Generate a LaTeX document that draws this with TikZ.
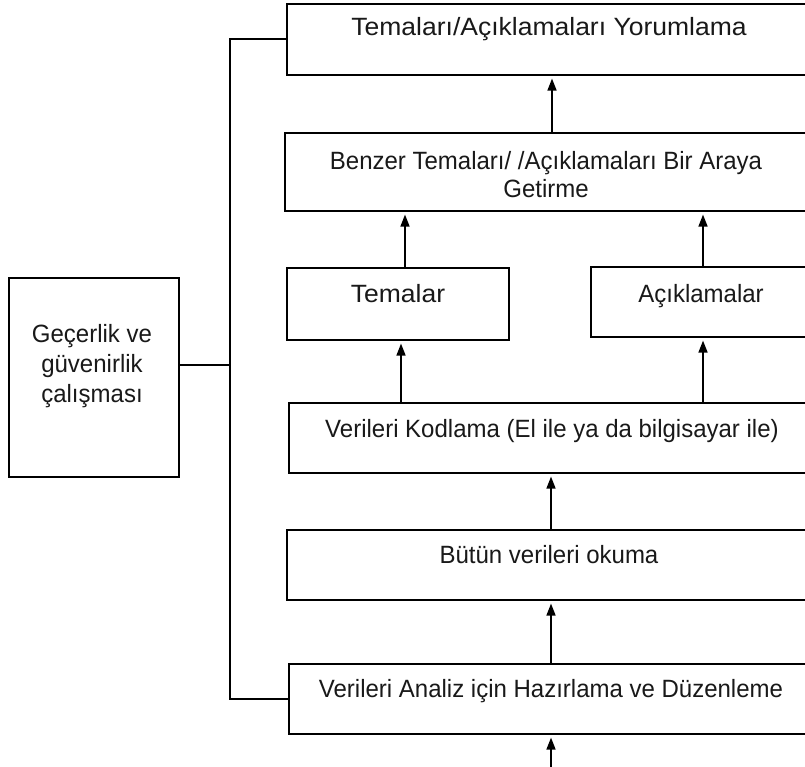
\documentclass[tikz,border=0pt]{standalone}
\usepackage{fontspec}
\setmainfont{Liberation Sans}
\newfontfamily\narrowlab[FakeStretch=0.96]{Liberation Sans}
\newfontfamily\widelab[FakeStretch=1.06]{Liberation Sans}
\usetikzlibrary{arrows.meta}
\begin{document}
\begin{tikzpicture}[x=1pt,y=-1pt,
  box/.style={draw, line width=1.6pt, rectangle, inner sep=0pt, anchor=north west},
  lbl/.style={anchor=base, inner sep=0pt, font=\narrowlab\fontsize{25}{30}\selectfont, text=black!90},
  widelbl/.style={lbl, font=\widelab\fontsize{25}{30}\selectfont},
  link/.style={line width=1.6pt},
  arr/.style={line width=1.6pt, -{Triangle[length=12pt,width=9pt]}, shorten >=3pt}]
\useasboundingbox (0,0) rectangle (805,767);
\clip (0,0) rectangle (805,767);
\fill[white] (0,0) rectangle (805,767);

% process boxes (the wide ones run past the right border)
\node[box, minimum width=540, minimum height=71] (yor) at (286,3) {};
\node[box, minimum width=540, minimum height=78] (ben) at (284,132) {};
\node[box, minimum width=222, minimum height=72] (tem) at (286,267) {};
\node[box, minimum width=225, minimum height=70] (ack) at (590,266) {};
\node[box, minimum width=540, minimum height=70] (kod) at (288,402) {};
\node[box, minimum width=540, minimum height=70] (but) at (286,529) {};
\node[box, minimum width=540, minimum height=70] (haz) at (288,663) {};
\node[box, minimum width=170, minimum height=199] (val) at (8,277) {};

% texts
\node[widelbl] (tyor) at (549,36) {Temaları/Açıklamaları Yorumlama};
\node[lbl] (tben1) at (546,170) {Benzer Temaları/ /Açıklamaları Bir Araya};
\node[lbl] (tben2) at (546,198) {Getirme};
\node[widelbl] (ttem) at (398,302) {Temalar};
\node[lbl] (tack) at (701,302) {Açıklamalar};
\node[lbl] (tkod) at (552,437) {Verileri Kodlama (El ile ya da bilgisayar ile)};
\node[lbl] (tbut) at (549,563) {Bütün verileri okuma};
\node[lbl] (thaz) at (551,697) {Verileri Analiz için Hazırlama ve Düzenleme};
\node[lbl, anchor=center, align=center] (tval) at (92,366)
  {Geçerlik ve\\güvenirlik\\çalışması};

% upward flow
\draw[arr] (ben.north -| 552,0) -- (yor.south -| 552,0);
\draw[arr] (tem.north -| 405,0) -- (ben.south -| 405,0);
\draw[arr] (ack.north -| 703,0) -- (ben.south -| 703,0);
\draw[arr] (kod.north -| 401,0) -- (tem.south -| 401,0);
\draw[arr] (kod.north -| 703,0) -- (ack.south -| 703,0);
\draw[arr] (but.north -| 551,0) -- (kod.south -| 551,0);
\draw[arr] (haz.north -| 551,0) -- (but.south -| 551,0);
\coordinate (src) at (551,770);
\draw[arr] (src) -- (haz.south -| src);

% validity bus on the left
\coordinate (bus) at (230,0);
\draw[link] (yor.west) -| (bus |- haz.west) -- (haz.west);
\draw[link] (val.east |- 0,365) -- (bus |- 0,365);
\end{tikzpicture}
\end{document}
